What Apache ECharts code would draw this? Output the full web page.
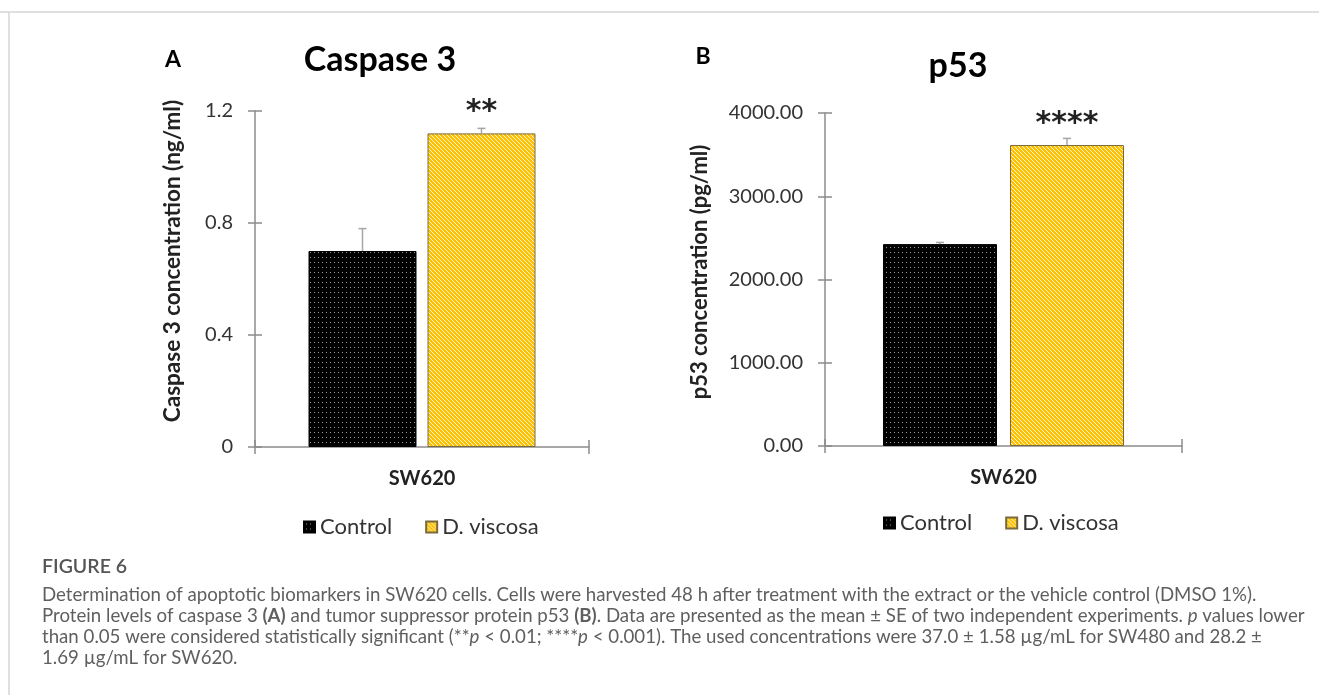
<!DOCTYPE html>
<html><head><meta charset="utf-8">
<script src="https://cdn.jsdelivr.net/npm/echarts@6/dist/echarts.min.js"></script>
<style>html,body{margin:0;padding:0;background:#fff;}#c{width:1319px;height:695px;}</style>
</head><body><div id="c"></div>
<script>
// ---- data ----
const categories = ['SW620'];
const seriesNames = ['Control', 'D. viscosa'];
const caspaseMean = [0.70, 1.12];
const caspaseSE = [0.08, 0.018];
const caspaseSig = ['', '**'];
const p53Mean = [2425, 3615];
const p53SE = [20, 80];
const p53Sig = ['', '****'];
const caspaseAxis = { min: 0, max: 1.2, interval: 0.4 };
const p53Axis = { min: 0, max: 4000, interval: 1000 };
const panelTitles = ['Caspase 3', 'p53'];
const panelLetters = ['A', 'B'];
const yNames = ['Caspase 3 concentration (ng/ml)', 'p53 concentration (pg/ml)'];
const captionHead = 'FIGURE 6';
const captionLines = [
  'Determination of apoptotic biomarkers in SW620 cells. Cells were harvested 48 h after treatment with the extract or the vehicle control (DMSO 1%).',
  'Protein levels of caspase 3 {b|(A)} and tumor suppressor protein p53 {b|(B)}. Data are presented as the mean ± SE of two independent experiments. {i|p} values lower',
  'than 0.05 were considered statistically significant (**{i|p} < 0.01; ****{i|p} < 0.001). The used concentrations were 37.0 ± 1.58 µg/mL for SW480 and 28.2 ±',
  '1.69 µg/mL for SW620.'
];

const FONT = 'Lato, "Open Sans", sans-serif';

function dotPattern() {
  const c = document.createElement('canvas'); c.width = 4; c.height = 5;
  const x = c.getContext('2d');
  x.fillStyle = '#000'; x.fillRect(0, 0, 4, 5);
  x.fillStyle = '#9a9a9a'; x.fillRect(2, 2, 1, 1);
  return c;
}
function stripePattern() {
  const c = document.createElement('canvas'); c.width = 4; c.height = 4;
  const x = c.getContext('2d');
  x.fillStyle = '#FFC000'; x.fillRect(0, 0, 4, 4);
  x.fillStyle = 'rgba(255,255,255,0.85)';
  for (let i = 0; i < 4; i++) x.fillRect(i, i, 1, 1);
  return c;
}
const ctrlFill = { image: dotPattern(), repeat: 'repeat' };
const viscFill = { image: stripePattern(), repeat: 'repeat' };

const panels = [
  { left: 255, top: 111, width: 334, height: 336, barW: 108, gap: 11, mean: caspaseMean, se: caspaseSE, sig: caspaseSig, ax: caspaseAxis, fmt: v => v === 0 ? '0' : String(v) },
  { left: 825, top: 113, width: 357, height: 333, barW: 114, gap: 13, mean: p53Mean, se: p53SE, sig: p53Sig, ax: p53Axis, fmt: v => v.toFixed(2) }
];

const grid = [], xAxis = [], yAxis = [], series = [];
panels.forEach((p, k) => {
  grid.push({ left: p.left, top: p.top, width: p.width, height: p.height });
  const axLine = { lineStyle: { color: '#8c8c8c', width: 1.5 } };
  const tickStyle = { color: '#8c8c8c', width: 1.5 };
  xAxis.push({ type: 'category', gridIndex: k, data: categories, position: 'bottom', axisLine: axLine,
    axisTick: { show: true, length: 7, lineStyle: tickStyle },
    axisLabel: { fontFamily: FONT, fontWeight: 'bold', fontSize: 20, color: '#222', margin: 22 } });
  xAxis.push({ type: 'category', gridIndex: k, data: categories, position: 'bottom', axisLine: { show: false },
    axisTick: { show: true, inside: true, length: 7, lineStyle: tickStyle },
    axisLabel: { show: false } });
  yAxis.push({ type: 'value', gridIndex: k, position: 'left', min: p.ax.min, max: p.ax.max, interval: p.ax.interval,
    axisLine: { show: true, ...axLine }, splitLine: { show: false },
    axisTick: { show: true, length: 7, lineStyle: tickStyle },
    axisLabel: { fontFamily: FONT, fontSize: 20, color: '#333', margin: 22, formatter: p.fmt } });
  yAxis.push({ type: 'value', gridIndex: k, position: 'left', min: p.ax.min, max: p.ax.max, interval: p.ax.interval,
    axisLine: { show: false }, splitLine: { show: false },
    axisTick: { show: true, inside: true, length: 7, lineStyle: tickStyle },
    axisLabel: { show: false } });
  const xi = k * 2, yi = k * 2;
  const gapPct = (p.gap / p.barW * 100) + '%';
  series.push({ name: seriesNames[0], type: 'bar', xAxisIndex: xi, yAxisIndex: yi, barWidth: p.barW, barGap: gapPct,
    itemStyle: { color: ctrlFill, borderColor: '#000', borderWidth: 1 }, data: [p.mean[0]] });
  series.push({ name: seriesNames[1], type: 'bar', xAxisIndex: xi, yAxisIndex: yi, barWidth: p.barW, barGap: gapPct,
    itemStyle: { color: viscFill, borderColor: '#7a6a3a', borderWidth: 1 }, data: [p.mean[1]],
    label: { show: true, position: 'top', distance: 6, formatter: () => p.sig[1],
      fontFamily: '"DejaVu Sans", sans-serif', fontWeight: 'bold', fontSize: 30, color: '#222' } });
  series.push({ type: 'custom', xAxisIndex: xi, yAxisIndex: yi, z: 10,
    data: p.mean.map((m, i) => [categories[0], m, p.se[i], i]),
    renderItem: (params, api) => {
      const g = api.value(3), m = api.value(1), s = api.value(2);
      const p0 = api.coord([api.value(0), m]);
      const p1 = api.coord([api.value(0), m + s]);
      const x = p0[0] + (g === 0 ? -1 : 1) * (p.barW + p.gap) / 2;
      const st = { stroke: '#a6a6a6', lineWidth: 1.5 };
      return { type: 'group', children: [
        { type: 'line', shape: { x1: x, y1: p0[1], x2: x, y2: p1[1] }, style: st },
        { type: 'line', shape: { x1: x - 4, y1: p1[1], x2: x + 4, y2: p1[1] }, style: st }
      ] };
    } });
});

// ---- caption ----
const CAP_LEFT = 42, CAP_LINE1_RIGHT = 1257;
const mctx = document.createElement('canvas').getContext('2d');
mctx.font = '100px ' + FONT;
const CAP_SIZE = 100 * (CAP_LINE1_RIGHT - CAP_LEFT) / mctx.measureText(captionLines[0]).width;
const CAP_COLOR = '#5f5f5f';
const capRich = {
  i: { fontStyle: 'italic', fontFamily: FONT, fontSize: CAP_SIZE, color: CAP_COLOR },
  b: { fontWeight: 'bold', fontFamily: FONT, fontSize: CAP_SIZE, color: CAP_COLOR }
};

const graphic = [
  { type: 'line', shape: { x1: 0, y1: 12, x2: 1319, y2: 12 }, style: { stroke: '#d6d6d6', lineWidth: 1.5 } },
  { type: 'line', shape: { x1: 9, y1: 12, x2: 9, y2: 695 }, style: { stroke: '#d6d6d6', lineWidth: 1.5 } },
  { type: 'text', x: 173, y: 60, style: { text: panelLetters[0], font: 'bold 23px ' + FONT, fill: '#000', textAlign: 'center', textVerticalAlign: 'middle' } },
  { type: 'text', x: 703, y: 57, style: { text: panelLetters[1], font: 'bold 23px ' + FONT, fill: '#000', textAlign: 'center', textVerticalAlign: 'middle' } },
  { type: 'text', x: 380, y: 60, style: { text: panelTitles[0], font: 'bold 34px ' + FONT, fill: '#000', textAlign: 'center', textVerticalAlign: 'middle' } },
  { type: 'text', x: 958, y: 66, style: { text: panelTitles[1], font: 'bold 34px ' + FONT, fill: '#000', textAlign: 'center', textVerticalAlign: 'middle' } },
  { type: 'text', x: 173, y: 261, rotation: Math.PI / 2, style: { text: yNames[0], font: 'bold 22.5px ' + FONT, fill: '#222', textAlign: 'center', textVerticalAlign: 'middle' } },
  { type: 'text', x: 700, y: 272, rotation: Math.PI / 2, style: { text: yNames[1], font: 'bold 22px ' + FONT, fill: '#222', textAlign: 'center', textVerticalAlign: 'middle' } },
  { type: 'text', x: CAP_LEFT, y: 567, style: { text: captionHead, font: '600 19.5px ' + FONT, fill: '#555', textVerticalAlign: 'middle' } }
];
captionLines.forEach((line, li) => {
  graphic.push({ type: 'text', x: CAP_LEFT, y: 595 + li * 21,
    style: { text: line, rich: capRich, font: CAP_SIZE + 'px ' + FONT, fill: CAP_COLOR, textVerticalAlign: 'middle' } });
});

const legendCommon = { icon: 'rect', itemWidth: 11, itemHeight: 11, itemGap: 33, data: seriesNames,
  textStyle: { fontFamily: FONT, fontSize: 22, color: '#333', padding: [0, 0, 0, 0] }, selectedMode: false };

const chart = echarts.init(document.getElementById('c'));
chart.setOption({
  animation: false,
  grid, xAxis, yAxis, series, graphic,
  legend: [
    { ...legendCommon, left: 298, top: 511 },
    { ...legendCommon, left: 878, top: 507 }
  ]
});
</script></body></html>
